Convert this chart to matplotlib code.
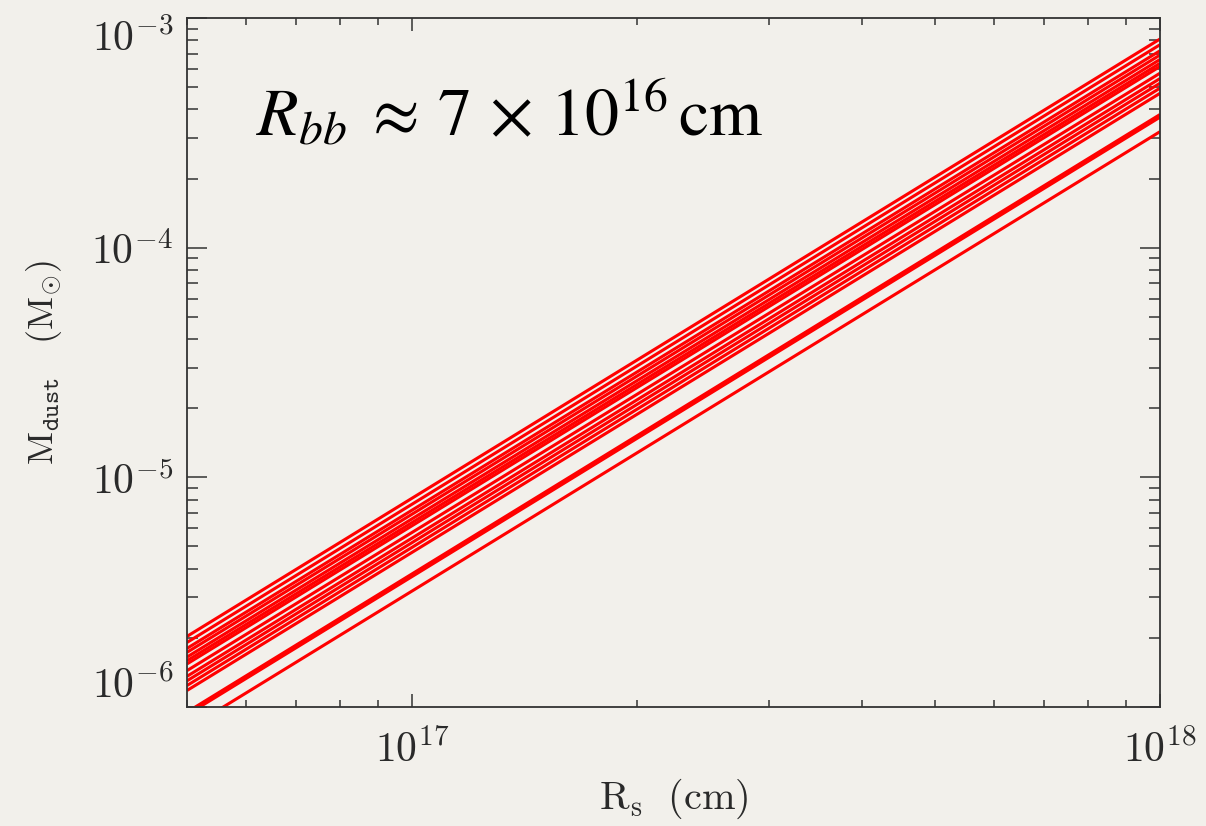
import numpy as np
import matplotlib
matplotlib.use("Agg")
import matplotlib.pyplot as plt
from matplotlib.ticker import FixedLocator, NullFormatter

# radius range of the plot (cm)
r_ends = [5e16, 1e18]

# dust mass of each model at the two ends of the radius range (Msun)
m_left = [2.03e-6, 1.91e-6, 1.80e-6, 1.73e-6, 1.65e-6, 1.59e-6, 1.54e-6,
          1.44e-6, 1.36e-6, 1.30e-6, 1.24e-6, 1.18e-6, 0.95e-6, 0.925e-6, 0.80e-6]
m_right = [8.1e-4, 7.65e-4, 7.2e-4, 6.9e-4, 6.6e-4, 6.35e-4, 6.15e-4,
           5.75e-4, 5.45e-4, 5.2e-4, 4.95e-4, 4.7e-4, 3.8e-4, 3.7e-4, 3.2e-4]

x_ticks = [1e17, 1e18]
x_ticklabels = [r"$10^{17}$", r"$10^{18}$"]
y_ticks = [1e-6, 1e-5, 1e-4, 1e-3]
y_ticklabels = [r"$10^{-6}$", r"$10^{-5}$", r"$10^{-4}$", r"$10^{-3}$"]

BG = "#f2f0eb"
INK = "#333333"

plt.rcParams["mathtext.fontset"] = "cm"
plt.rcParams["font.family"] = "serif"

fig = plt.figure(figsize=(12.06, 8.26), dpi=100, facecolor=BG)
ax = fig.add_axes([187/1206, 1-707/826, (1160-187)/1206, (707-18)/826])
ax.set_facecolor(BG)

for a, b in zip(m_left, m_right):
    ax.plot(r_ends, [a, b], color="#ff0000", lw=2.2, solid_capstyle="butt")

ax.set_xscale("log")
ax.set_yscale("log")
ax.set_xlim(r_ends[0], r_ends[1])
ax.set_ylim(1e-6, 1e-3)

ax.set_xticks(x_ticks, labels=x_ticklabels)
ax.set_yticks(y_ticks, labels=y_ticklabels)
xminor = [k*10**e for e in (16, 17) for k in range(2, 10) if 5e16 <= k*10**e <= 1e18]
yminor = [k*10**e for e in (-6, -5, -4) for k in range(2, 10)]
ax.xaxis.set_minor_locator(FixedLocator(xminor))
ax.yaxis.set_minor_locator(FixedLocator(yminor))
ax.xaxis.set_minor_formatter(NullFormatter())
ax.yaxis.set_minor_formatter(NullFormatter())

ax.tick_params(which="both", direction="in", top=True, right=True, color=INK, width=1.1)
ax.tick_params(axis="x", which="major", length=9.5, pad=16, labelsize=30, labelcolor="#2a2a2a")
ax.tick_params(axis="x", which="minor", length=5)
ax.tick_params(axis="y", which="major", length=14.5, pad=10, labelsize=30, labelcolor="#2a2a2a")
ax.tick_params(axis="y", which="minor", length=8)

# IDL style: pull the end labels inside the axis range
ylabs = ax.get_yticklabels()
ylabs[0].set_va("bottom")
ylabs[-1].set_va("top")

for s in ax.spines.values():
    s.set_color(INK)
    s.set_linewidth(1.3)

ax.set_xlabel(r"$\mathrm{R_s\ \ (cm)}$", fontsize=29, color="#2a2a2a", labelpad=4)
ax.set_ylabel(r"$\mathrm{M_{\mathtt{dust}}\ \ \ (M_{\odot})}$", fontsize=26, color="#2a2a2a", labelpad=20)

ax.text(0.071, 0.83, r"$R_{bb}\;\approx\,7\,\times\,10^{16}\,\mathrm{cm}$", transform=ax.transAxes,
        fontsize=49, color="black", math_fontfamily="stix", va="baseline", ha="left")

fig.savefig("out.png", dpi=100, facecolor=BG)
